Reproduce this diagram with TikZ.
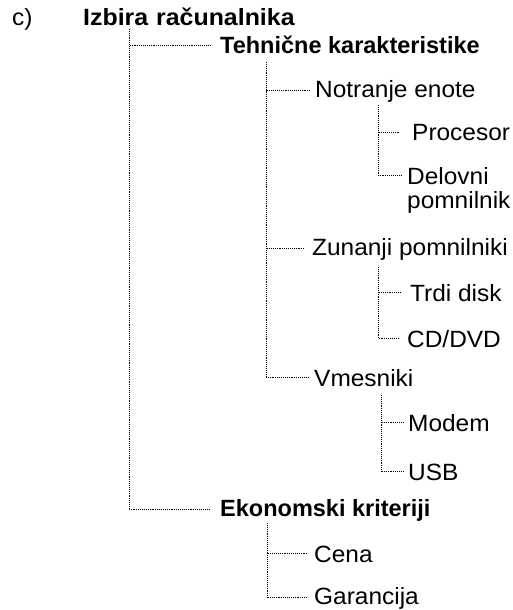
\documentclass[tikz,border=0pt]{standalone}
\usepackage{fontspec}
\setmainfont{Liberation Sans}
\newfontfamily\regf{Liberation Sans}[FakeStretch=1.04]
\newfontfamily\rootf{Liberation Sans}[FakeStretch=1.06]
\begin{document}
\begin{tikzpicture}[x=1pt,y=-1pt,
  lbl/.style={anchor=base west,inner ysep=0pt,inner xsep=0pt,font=\fontsize{23.5}{24.5}\selectfont\regf},
  blbl/.style={lbl,font=\fontsize{23.5}{24.5}\selectfont\bfseries},
  dotline/.style={line width=0.9pt,dash pattern=on 0.9pt off 1pt,black}]
\useasboundingbox (0,0) rectangle (512,610);
% labels
\node[lbl] (c) at (12,26) {c)};
\node[blbl,font=\fontsize{23.5}{24.5}\selectfont\rootf\bfseries] (root) at (83,26) {Izbira\hspace{1pt} računalnika};
\node[blbl,inner xsep=9pt] (tech) at (211,54) {Tehnične karakteristike};
\node[lbl,inner xsep=5pt] (notr) at (310,97) {Notranje enote};
\node[lbl,inner xsep=12pt] (proc) at (400,140) {Procesor};
\node[lbl,inner xsep=6pt] (delo) at (401,184) {Delovni};
\node[lbl] (delo2) at ([xshift=6pt,yshift=-24.5pt]delo.base west) {pomnilnik};
\node[lbl,inner xsep=7pt] (zun) at (305,255) {Zunanji pomnilniki};
\node[lbl,inner xsep=10pt] (trdi) at (400,301) {Trdi disk};
\node[lbl,inner xsep=8pt] (cd) at (399,347) {CD/DVD};
\node[lbl,inner xsep=6pt] (vmes) at (308,386) {Vmesniki};
\node[lbl,inner xsep=5pt] (modem) at (403,431) {Modem};
\node[lbl,inner xsep=5pt] (usb) at (403,480) {USB};
\node[blbl,inner xsep=10pt] (eko) at (210,516) {Ekonomski kriteriji};
\node[lbl,inner xsep=7pt] (cena) at (307,562) {Cena};
\node[lbl,inner xsep=7pt] (gar) at (307,604) {Garancija};
% trunk tops
\coordinate (t0) at (129,29);
\coordinate (t1) at (266,62);
\coordinate (t2) at (378,105);
\coordinate (t3) at (378,267);
\coordinate (t4) at (381,395);
\coordinate (t5) at (267,523);
% connectors
\draw[dotline] (t0) |- (tech.west);
\draw[dotline] (t0) |- (eko.west);
\draw[dotline] (t1) |- (notr.west);
\draw[dotline] (t1) |- (zun.west);
\draw[dotline] (t1) |- (vmes.west);
\draw[dotline] (t2) |- (proc.west);
\draw[dotline] (t2) |- (delo.west);
\draw[dotline] (t3) |- (trdi.west);
\draw[dotline] (t3) |- (cd.west);
\draw[dotline] (t4) |- (modem.west);
\draw[dotline] (t4) |- (usb.west);
\draw[dotline] (t5) |- (cena.west);
\draw[dotline] (t5) |- (gar.west);
\end{tikzpicture}
\end{document}
